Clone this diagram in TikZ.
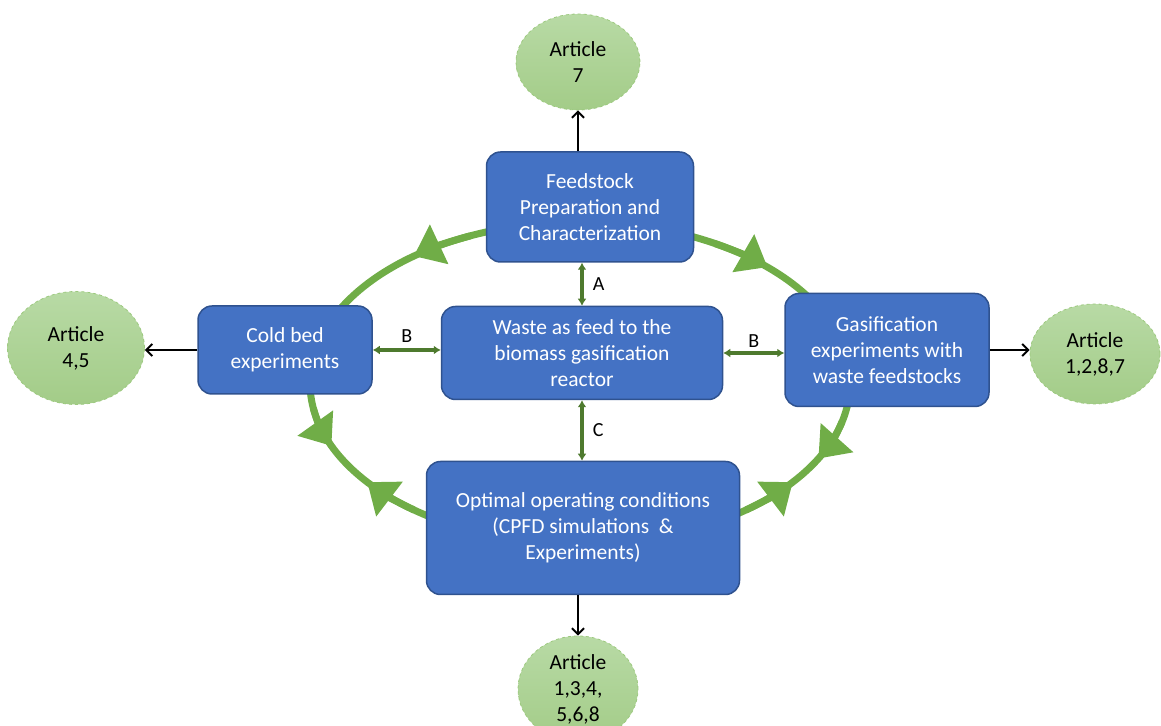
\documentclass[tikz,border=0pt]{standalone}
\usepackage{fontspec}
\setmainfont{Carlito}
\usepackage{tikz}
\usetikzlibrary{shapes,arrows.meta}

\definecolor{boxblue}{HTML}{4472C4}
\definecolor{boxedge}{HTML}{2F528F}
\definecolor{loopgreen}{HTML}{70AD47}
\definecolor{linkgreen}{HTML}{4E7A2E}
\definecolor{artedge}{HTML}{9CC97E}
\definecolor{arttop}{HTML}{B8DAA5}
\definecolor{artbot}{HTML}{A3CC88}

\begin{document}
\begin{tikzpicture}[x=1pt, y=1pt,
    task/.style={rectangle, rounded corners=14pt, fill=boxblue, draw=boxedge, line width=1.5pt,
      text=white, align=center, inner sep=0pt, font=\fontsize{21.5}{26}\selectfont},
    article/.style={ellipse, top color=arttop, bottom color=artbot, draw=artedge, dashed,
      line width=0.8pt, align=center, inner sep=0pt, font=\fontsize{21.5}{26}\selectfont},
    loopline/.style={loopgreen, line width=7pt},
    link/.style={linkgreen, line width=3.2pt, {Latex[length=7pt,width=9pt]}-{Latex[length=7pt,width=9pt]}},
    outarrow/.style={black, line width=2pt, -{Straight Barb[length=6pt,width=12pt]}},
    tag/.style={text=black, font=\fontsize{20}{24}\selectfont}]
    \useasboundingbox (0,0) rectangle (1161,725);

    % green cycle
    \coordinate (hub) at (580,342);
    \draw[loopline] (hub) ellipse[x radius=270, y radius=161];
    \foreach \tip/\dir in {128/1, 46/-1, 203/1, 218/-1, 332/-1, 322/1}
      \draw[loopline, -{Triangle[length=28pt,width=42pt]}]
        (hub) ++({\tip-14*\dir}:270 and 161)
        arc[start angle={\tip-14*\dir}, end angle=\tip, x radius=270, y radius=161];

    % tasks
    \node[task, minimum width=207pt, minimum height=110pt] (feed) at (590,518) {Feedstock\\Preparation and\\Characterization};
    \node[task, minimum width=281pt, minimum height=93pt] (waste) at (582,372) {Waste as feed to the\\biomass gasification\\reactor};
    \node[task, minimum width=174pt, minimum height=88pt] (cold) at (285,375) {Cold bed\\experiments};
    \node[task, minimum width=204pt, minimum height=113pt] (gasif) at (887,375) {Gasification\\experiments with\\waste feedstocks};
    \node[task, minimum width=313pt, minimum height=133pt] (optim) at (583,197) {Optimal operating conditions\\(CPFD simulations~~\&\\Experiments)};

    % articles
    \node[article, minimum width=124pt, minimum height=96pt] (art7) at (578,663) {Article\\7};
    \node[article, minimum width=137pt, minimum height=113pt] (art45) at (76,377) {Article\\4,5};
    \node[article, minimum width=130pt, minimum height=100pt] (art1287) at (1095,371) {Article\\1,2,8,7};
    \node[article, minimum width=120pt, minimum height=106pt] (art134568) at (578,36) {Article\\1,3,4,\\5,6,8};

    % links
    \draw[link] (waste.north |- feed.south) -- node[tag, right=6pt] {A} (waste.north);
    \draw[link] (cold.east) -- node[tag, above=3pt] {B} (cold.east -| waste.west);
    \draw[link] (waste.east) -- node[tag, above=1pt] {B} (waste.east -| gasif.west);
    \draw[link] (waste.south) -- node[tag, right=6pt] {C} (waste.south |- optim.north);

    \draw[outarrow] (art7.south |- feed.north) -- (art7.south);
    \draw[outarrow] (cold.west) -- (cold.west -| art45.east);
    \draw[outarrow] (gasif.east) -- (gasif.east -| art1287.west);
    \draw[outarrow] (art134568.north |- optim.south) -- (art134568.north);
\end{tikzpicture}
\end{document}
